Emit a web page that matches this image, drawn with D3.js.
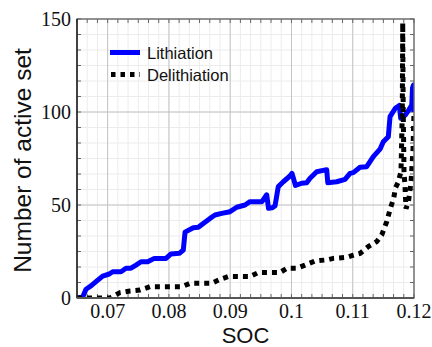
<!DOCTYPE html>
<html>
<head>
<meta charset="utf-8">
<script src="https://cdn.jsdelivr.net/npm/d3@7"></script>
<style>
  html, body { margin: 0; padding: 0; background: #fff; }
  svg { display: block; }
</style>
</head>
<body>
<svg id="chart" width="432" height="347"></svg>
<script>
// Lithiation: number of active set vs state of charge
const socLith = [0.0650, 0.06593, 0.06647, 0.06728, 0.0681, 0.06919, 0.07027, 0.07083, 0.07218, 0.0730,
  0.07381, 0.07463, 0.07545, 0.07654, 0.07762, 0.07953, 0.08034, 0.0817, 0.08235, 0.08263,
  0.08398, 0.0848, 0.08561, 0.08671, 0.08752, 0.08862, 0.08997, 0.09106, 0.09242, 0.09324,
  0.09519, 0.09596, 0.09626, 0.09683, 0.09732, 0.09785, 0.09867, 0.09976, 0.10009, 0.10066,
  0.10167, 0.10249, 0.10303, 0.10412, 0.10575, 0.10593, 0.10739, 0.10874, 0.10956, 0.1101,
  0.11119, 0.11228, 0.11336, 0.11445, 0.11499, 0.11581, 0.11609, 0.11695, 0.1176, 0.11783,
  0.11858, 0.11914, 0.11964, 0.11976, 0.11992, 0.1200];
const nLith = [0, 0.5, 4.7, 6.5, 8.8, 11.8, 12.9, 14.1, 14.1, 16,
  16, 17.7, 19.5, 19.5, 21.3, 21.3, 23.7, 24, 25.8, 35.4,
  37.8, 38, 40.1, 42.8, 44.6, 45.5, 46.4, 48.8, 50, 51.8,
  51.8, 55.5, 48.2, 48.5, 49.5, 59.9, 62.5, 65.6, 67, 60.5,
  61.7, 62, 64.4, 67.9, 69, 62, 62.5, 63.8, 67, 67.4,
  70.3, 70.6, 76, 80, 84, 86.7, 97.5, 102, 103.5, 96.6,
  98.4, 101, 103.8, 113, 114.5, 100];

// Delithiation
const socDelith = [0.0650, 0.07039, 0.0712, 0.07202, 0.07365, 0.07528, 0.07659, 0.07691, 0.08214, 0.08344,
  0.08698, 0.08834, 0.08969, 0.09324, 0.09459, 0.09813, 0.09927, 0.10091, 0.10221, 0.10384,
  0.1058, 0.10683, 0.10907, 0.1101, 0.11119, 0.11254, 0.11391, 0.11473, 0.11555, 0.11614,
  0.11669, 0.11695, 0.11739, 0.11788, 0.11809, 0.11816, 0.11824, 0.11837, 0.11853, 0.1187,
  0.1191, 0.11951, 0.11984, 0.1200];
const nDelith = [0, 0, 1.5, 2.9, 3.8, 4.3, 5.7, 6.1, 6.1, 7.9,
  7.9, 10, 11.5, 11.5, 13.7, 13.7, 16, 16, 17.7, 19.9,
  20.5, 21.3, 21.9, 23, 24, 27.6, 30.3, 33.9, 41, 48.2,
  53.6, 59, 62, 68, 100, 148, 100, 68, 60, 48,
  52, 62, 80, 100];

const xTickValues = [0.07, 0.08, 0.09, 0.10, 0.11, 0.12];
const xTickLabels = ["0.07", "0.08", "0.09", "0.1", "0.11", "0.12"];
const yTickValues = [0, 50, 100, 150];
const seriesNames = ["Lithiation", "Delithiation"];

const svg = d3.select("#chart");
const m = { left: 77, right: 414, top: 19, bottom: 298 };

const x = d3.scaleLinear().domain([0.065, 0.12]).range([m.left, m.right]);
const y = d3.scaleLinear().domain([0, 150]).range([m.bottom, m.top]);

// minor positions: five minor ticks between majors
const xMinor = d3.range(0, 34).map(i => 0.065 + i * (0.01 / 6)).filter(v => v <= 0.12 + 1e-9);
const yMinor = d3.range(0, 19).map(i => i * (50 / 6));

const grid = svg.append("g");
grid.selectAll(".xm").data(xMinor).join("line")
  .attr("x1", d => x(d)).attr("x2", d => x(d))
  .attr("y1", m.top).attr("y2", m.bottom)
  .attr("stroke", "#ececec").attr("stroke-width", 1);
grid.selectAll(".ym").data(yMinor).join("line")
  .attr("x1", m.left).attr("x2", m.right)
  .attr("y1", d => y(d)).attr("y2", d => y(d))
  .attr("stroke", "#ececec").attr("stroke-width", 1);
grid.selectAll(".xM").data(xTickValues).join("line")
  .attr("x1", d => x(d)).attr("x2", d => x(d))
  .attr("y1", m.top).attr("y2", m.bottom)
  .attr("stroke", "#c4c4c4").attr("stroke-width", 1);
grid.selectAll(".yM").data(yTickValues).join("line")
  .attr("x1", m.left).attr("x2", m.right)
  .attr("y1", d => y(d)).attr("y2", d => y(d))
  .attr("stroke", "#c4c4c4").attr("stroke-width", 1);

// inward tick marks on all four sides
const ticks = svg.append("g").attr("stroke", "#666").attr("stroke-width", 1);
xMinor.forEach(v => {
  ticks.append("line").attr("x1", x(v)).attr("x2", x(v)).attr("y1", m.bottom).attr("y2", m.bottom - 4);
  ticks.append("line").attr("x1", x(v)).attr("x2", x(v)).attr("y1", m.top).attr("y2", m.top + 4);
});
yMinor.forEach(v => {
  ticks.append("line").attr("y1", y(v)).attr("y2", y(v)).attr("x1", m.left).attr("x2", m.left + 4);
  ticks.append("line").attr("y1", y(v)).attr("y2", y(v)).attr("x1", m.right).attr("x2", m.right - 4);
});

// data lines, clipped to the plot area
svg.append("clipPath").attr("id", "plotclip").append("rect")
  .attr("x", m.left).attr("y", m.top - 3)
  .attr("width", m.right - m.left).attr("height", m.bottom - m.top + 3);

const line = d3.line().x(d => x(d[0])).y(d => y(d[1]));
const lithPts = socLith.map((s, i) => [s, nLith[i]]);
const delithPts = socDelith.map((s, i) => [s, nDelith[i]]);

const plot = svg.append("g").attr("clip-path", "url(#plotclip)");
plot.append("path").datum(lithPts).attr("d", line)
  .attr("fill", "none").attr("stroke", "#0000ff").attr("stroke-width", 5)
  .attr("stroke-linejoin", "round");
plot.append("path").datum(delithPts).attr("d", line)
  .attr("fill", "none").attr("stroke", "#000").attr("stroke-width", 5)
  .attr("stroke-dasharray", "5,5");

// frame
svg.append("rect").attr("x", m.left).attr("y", m.top)
  .attr("width", m.right - m.left).attr("height", m.bottom - m.top)
  .attr("fill", "none").attr("stroke", "#6a6a6a").attr("stroke-width", 1.3);
svg.append("line").attr("x1", m.left).attr("x2", m.left).attr("y1", m.top).attr("y2", m.bottom)
  .attr("stroke", "#111").attr("stroke-width", 1.3);
svg.append("line").attr("x1", m.left).attr("x2", m.right).attr("y1", m.bottom).attr("y2", m.bottom)
  .attr("stroke", "#555").attr("stroke-width", 2);

// tick labels
const serif = "Liberation Serif, Times New Roman, DejaVu Serif, serif";
svg.append("g").selectAll("text").data(xTickValues).join("text")
  .attr("x", d => x(d)).attr("y", 318)
  .attr("text-anchor", "middle")
  .style("font-family", serif).style("font-size", "20px").attr("fill", "#111")
  .text((d, i) => xTickLabels[i]);
svg.append("g").selectAll("text").data(yTickValues).join("text")
  .attr("x", 71).attr("y", d => y(d) + 6.5)
  .attr("text-anchor", "end")
  .style("font-family", serif).style("font-size", "20px").attr("fill", "#111")
  .text(d => d);

// axis titles
const sans = "Liberation Sans, Arial, sans-serif";
svg.append("text").attr("x", x(0.0925)).attr("y", 343)
  .attr("text-anchor", "middle").style("font-family", sans).style("font-size", "22px").attr("fill", "#111")
  .text("SOC");
svg.append("text").attr("transform", `translate(31,${(m.top + m.bottom) / 2 + 2}) rotate(-90)`)
  .attr("text-anchor", "middle").style("font-family", sans).style("font-size", "24.5px").attr("fill", "#111")
  .text("Number of active set");

// legend
const lg = svg.append("g");
lg.append("line").attr("x1", 110).attr("x2", 140).attr("y1", 52.5).attr("y2", 52.5)
  .attr("stroke", "#0000ff").attr("stroke-width", 5);
lg.append("line").attr("x1", 111).attr("x2", 140).attr("y1", 74.5).attr("y2", 74.5)
  .attr("stroke", "#000").attr("stroke-width", 5).attr("stroke-dasharray", "4.5,5");
lg.selectAll("text").data(seriesNames).join("text")
  .attr("x", 147).attr("y", (d, i) => 58.5 + i * 22)
  .style("font-family", sans).style("font-size", "16.5px").attr("fill", "#111")
  .text(d => d);
</script>
</body>
</html>
